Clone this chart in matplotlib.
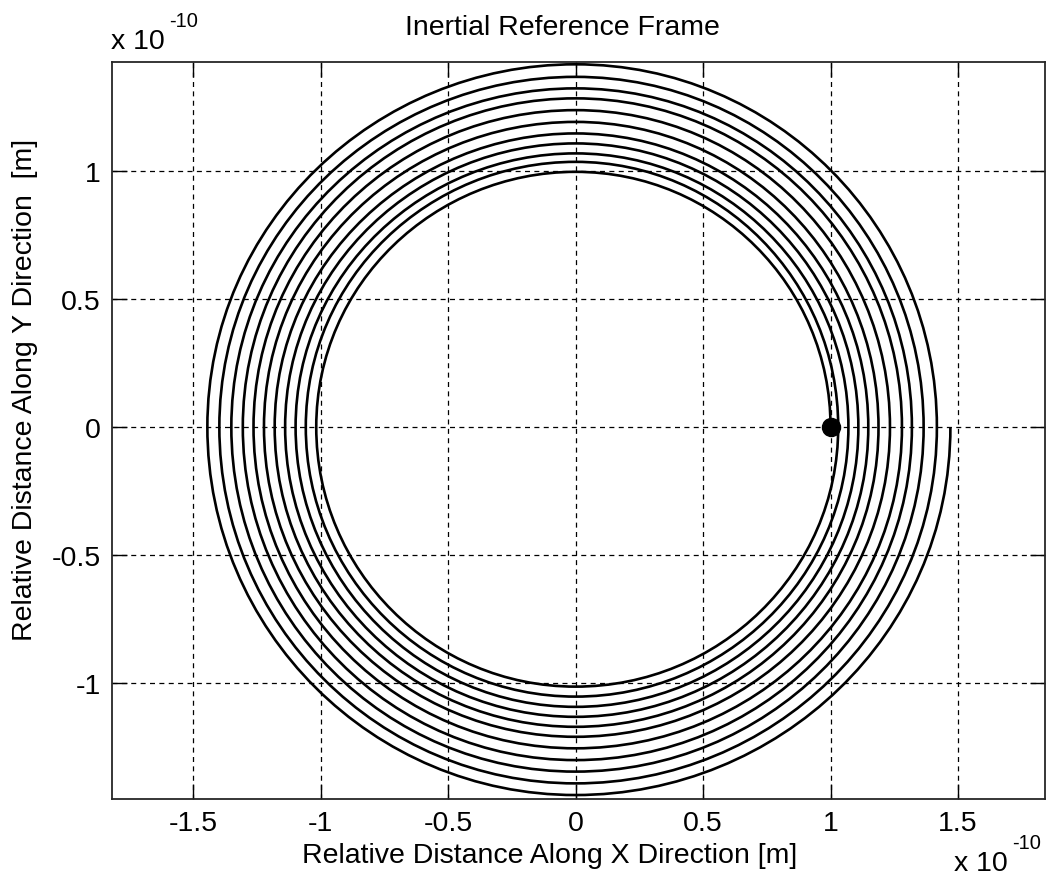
import matplotlib
matplotlib.use("Agg")
import matplotlib.pyplot as plt
import numpy as np
from matplotlib.path import Path
from matplotlib.patches import PathPatch

plt.rcParams["font.family"] = ["Liberation Sans", "DejaVu Sans"]

# orbit crossings of the axes, one value per revolution (units of 1e-10 m)
START_POINT = (1.0, 0.0)
TOP_Y = [0.997, 1.036, 1.069, 1.108, 1.147, 1.192, 1.238, 1.284, 1.323, 1.368, 1.417]
LEFT_X = [-1.017, -1.058, -1.098, -1.139, -1.180, -1.222, -1.263, -1.305, -1.350, -1.397, -1.444]
BOTTOM_Y = [-1.014, -1.053, -1.093, -1.132, -1.171, -1.210, -1.255, -1.301, -1.346, -1.392, -1.4375]
RIGHT_X = [1.030, 1.070, 1.109, 1.148, 1.188, 1.233, 1.280, 1.319, 1.365, 1.417, 1.470]

X_TICKS = [-1.5, -1, -0.5, 0, 0.5, 1, 1.5]
X_TICK_LABELS = ["-1.5", "-1", "-0.5", "0", "0.5", "1", "1.5"]
Y_TICKS = [-1, -0.5, 0, 0.5, 1]
Y_TICK_LABELS = ["-1", "-0.5", "0", "0.5", "1"]

W, H = 1050, 879
FS = 20.5


def orbit_path():
    # (radius, angle) at each quarter turn, counter-clockwise from the start point
    pts = [(START_POINT[0], 0.0)]
    for i in range(len(TOP_Y)):
        pts.append((TOP_Y[i], np.pi / 2))
        pts.append((-LEFT_X[i], np.pi))
        pts.append((-BOTTOM_Y[i], 1.5 * np.pi))
        pts.append((RIGHT_X[i], 0.0))

    k = 0.5523  # cubic bezier constant for a quarter circle
    verts, codes = [], []
    for j, (r, a) in enumerate(pts):
        p = np.array([r * np.cos(a), r * np.sin(a)])
        if j == 0:
            verts.append(p)
            codes.append(Path.MOVETO)
            continue
        r0, a0 = pts[j - 1]
        p0 = np.array([r0 * np.cos(a0), r0 * np.sin(a0)])
        t0 = np.array([-np.sin(a0), np.cos(a0)])
        t1 = np.array([-np.sin(a), np.cos(a)])
        verts += [p0 + k * r0 * t0, p - k * r * t1, p]
        codes += [Path.CURVE4] * 3
    return Path(verts, codes)


fig = plt.figure(figsize=(W / 100, H / 100), dpi=100)
ax = fig.add_axes([112 / W, 1 - 800 / H, (1045 - 112) / W, (800 - 62.5) / H])

ax.add_patch(PathPatch(orbit_path(), fill=False, edgecolor="black", lw=1.9, zorder=3))
ax.plot(*START_POINT, "o", color="black", markersize=13, zorder=4)

ax.set_xlim(-1.818, 1.841)
ax.set_ylim(-1.453, 1.428)
ax.set_xticks(X_TICKS)
ax.set_xticklabels(X_TICK_LABELS)
ax.set_yticks(Y_TICKS)
ax.set_yticklabels(Y_TICK_LABELS)
ax.tick_params(direction="in", length=11, width=1, labelsize=FS, pad=8,
               top=True, right=True, colors="black")
ax.set_axisbelow(True)
ax.grid(True, color="black", linestyle=(0, (4, 3.5)), linewidth=0.9)
for s in ax.spines.values():
    s.set_linewidth(1.3)
    s.set_color("#262626")

fig.text(562 / W, 1 - 28 / H, "Inertial Reference Frame", fontsize=FS,
         ha="center", va="center")
fig.text(550 / W, 1 - 856 / H, "Relative Distance Along X Direction [m]",
         fontsize=FS, ha="center", va="center")
fig.text(25 / W, 1 - 390 / H, "Relative Distance Along Y Direction  [m]",
         fontsize=FS, ha="center", va="center", rotation=90)

# exponent labels
fig.text(111 / W, 1 - 49 / H, "x 10", fontsize=FS, ha="left", va="baseline")
fig.text(169 / W, 1 - 27 / H, "-10", fontsize=14.5, ha="left", va="baseline")
fig.text(954 / W, 1 - 871 / H, "x 10", fontsize=FS, ha="left", va="baseline")
fig.text(1012 / W, 1 - 849 / H, "-10", fontsize=14.5, ha="left", va="baseline")

fig.savefig("out.png", dpi=100)
